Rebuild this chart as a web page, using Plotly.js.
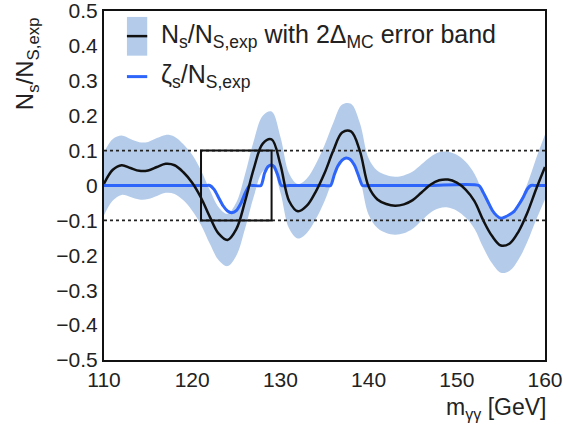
<!DOCTYPE html>
<html>
<head>
<meta charset="utf-8">
<script src="https://cdn.plot.ly/plotly-3.0.1.min.js"></script>
<style>html,body{margin:0;padding:0;background:#fff}#chart{width:563px;height:427px}</style>
</head>
<body>
<div id="chart"></div>
<script>
// m_yy grid [GeV]
var mass = [110,111,112,113,114,115,116,117,118,119,120,121,122,123,124,125,126,127,128,129,130,131,132,133,134,135,136,137,138,139,140,141,142,143,144,145,146,147,148,149,150,151,152,153,154,155,156,157,158,159,160];
// Ns/NS,exp (black curve)
var nsRatio = [0.005,0.045,0.058,0.050,0.042,0.043,0.053,0.062,0.058,0.038,0.008,-0.035,-0.090,-0.138,-0.156,-0.125,-0.045,0.050,0.120,0.132,0.060,-0.045,-0.074,-0.058,-0.018,0.035,0.100,0.152,0.155,0.100,-0.003,-0.040,-0.053,-0.058,-0.054,-0.042,-0.020,0.002,0.015,0.017,0.008,-0.012,-0.045,-0.100,-0.145,-0.172,-0.166,-0.132,-0.078,-0.010,0.053];
// half width of the 2 Delta_MC error band
var bandHalf = [0.090,0.088,0.085,0.083,0.082,0.082,0.083,0.083,0.082,0.080,0.080,0.078,0.077,0.076,0.075,0.076,0.078,0.080,0.080,0.080,0.080,0.079,0.078,0.078,0.079,0.080,0.080,0.080,0.079,0.080,0.081,0.082,0.083,0.083,0.083,0.082,0.081,0.080,0.080,0.080,0.080,0.080,0.079,0.078,0.078,0.078,0.078,0.080,0.083,0.088,0.093];
// zeta_s/NS,exp (blue curve)
var zetaMass = [110,115,121.5,122.0,122.5,123.0,123.5,124.0,124.5,125.0,125.5,126.0,126.5,127.0,127.8,128.2,128.6,128.95,129.3,129.7,130.1,131,135,135.7,136.1,136.5,137.0,137.45,137.9,138.4,138.9,139.3,140,147,152.5,153.0,153.5,154.0,154.5,155.0,155.5,156.0,156.5,157.0,157.5,158.0,158.4,159,160];
var zetaRatio = [0,0,0,0,-0.012,-0.035,-0.058,-0.073,-0.078,-0.072,-0.052,-0.022,0,0,0,0.035,0.054,0.059,0.054,0.030,0,0,0,0,0.030,0.055,0.073,0.079,0.075,0.058,0.025,0,0,0,0,-0.020,-0.045,-0.070,-0.086,-0.094,-0.090,-0.083,-0.074,-0.056,-0.035,-0.010,0,0,0];
// reference lines and signal window
var refLevels = [-0.1, 0.1];
var windowRange = [121, 129];
var xTicks = [110,120,130,140,150,160];
var yTicks = [-0.5,-0.4,-0.3,-0.2,-0.1,0,0.1,0.2,0.3,0.4,0.5];

var bandUp = mass.map(function(m,i){return nsRatio[i]+bandHalf[i];});
var bandLo = mass.map(function(m,i){return nsRatio[i]-bandHalf[i];});

var bandColor = 'rgb(180,204,234)';
var blueColor = 'rgb(45,100,250)';

var traces = [
  {x: mass, y: bandUp, mode:'lines', line:{width:0, shape:'spline', smoothing:1}, hoverinfo:'skip', showlegend:false},
  {x: mass, y: bandLo, mode:'lines', line:{width:0, shape:'spline', smoothing:1}, fill:'tonexty', fillcolor: bandColor, hoverinfo:'skip', showlegend:false},
  {x: zetaMass, y: zetaRatio, mode:'lines', line:{color: blueColor, width:3, shape:'spline', smoothing:0.6}, showlegend:false},
  {x: mass, y: nsRatio, mode:'lines', line:{color:'#111', width:2.5, shape:'spline', smoothing:1}, showlegend:false}
];

var shapes = refLevels.map(function(v){
  return {type:'line', xref:'x', yref:'y', x0:mass[0], x1:mass[mass.length-1], y0:v, y1:v, line:{color:'#222', width:1.8, dash:'dot'}, layer:'above'};
});
shapes.push({type:'rect', xref:'x', yref:'y', x0:windowRange[0], x1:windowRange[1], y0:refLevels[0], y1:refLevels[1], line:{color:'#111', width:2}, layer:'above'});
// legend symbols
shapes.push({type:'rect', xref:'paper', yref:'paper', x0:0.052, x1:0.098, y0:0.872, y1:0.983, fillcolor:bandColor, line:{width:0}});
shapes.push({type:'line', xref:'paper', yref:'paper', x0:0.052, x1:0.098, y0:0.928, y1:0.928, line:{color:'#111', width:2.5}});
shapes.push({type:'line', xref:'paper', yref:'paper', x0:0.052, x1:0.098, y0:0.812, y1:0.812, line:{color:blueColor, width:3}});

var fnt = 'Liberation Sans, Arial, Helvetica, sans-serif';
var annotations = [
  {xref:'paper', yref:'paper', x:0.125, y:0.928, xanchor:'left', yanchor:'middle', showarrow:false,
   text:'N<sub>s</sub>/N<sub>S,exp</sub> with 2Δ<sub>MC</sub> error band', font:{family:fnt, size:25, color:'#222'}},
  {xref:'paper', yref:'paper', x:0.125, y:0.815, xanchor:'left', yanchor:'middle', showarrow:false,
   text:'ζ<sub>s</sub>/N<sub>S,exp</sub>', font:{family:fnt, size:25, color:'#222'}},
  {xref:'paper', yref:'paper', x:-0.175, y:0.85, xanchor:'center', yanchor:'middle', showarrow:false, textangle:-90,
   text:'N<sub>s</sub>/N<sub>S,exp</sub>', font:{family:fnt, size:24, color:'#222'}},
  {xref:'paper', yref:'paper', x:1.007, y:-0.14, xanchor:'right', yanchor:'middle', showarrow:false,
   text:'m<sub>γγ</sub> [GeV]', font:{family:fnt, size:23, color:'#222'}}
];

var layout = {
  width:563, height:427,
  margin:{l:104, r:18, t:11, b:67},
  paper_bgcolor:'#fff', plot_bgcolor:'#fff',
  font:{family:fnt, size:21, color:'#222'},
  showlegend:false,
  xaxis:{range:[110,160], tickvals:xTicks, ticktext:xTicks.map(String), showgrid:false, zeroline:false,
         showline:true, mirror:true, linecolor:'#111', linewidth:2, ticks:'', ticklen:0, tickfont:{size:21}, ticklabeloverflow:'allow'},
  yaxis:{range:[-0.5,0.5], tickvals:yTicks, ticktext:yTicks.map(function(v){return v===0?'0':(v<0?'\u2212':'')+Math.abs(v).toFixed(1);}),
         showgrid:false, zeroline:false, showline:true, mirror:true, linecolor:'#111', linewidth:2, ticks:'', ticklen:0, tickfont:{size:21}, ticklabeloverflow:'allow'},
  shapes:shapes,
  annotations:annotations
};

Plotly.newPlot('chart', traces, layout, {staticPlot:true, displayModeBar:false});
</script>
</body>
</html>
